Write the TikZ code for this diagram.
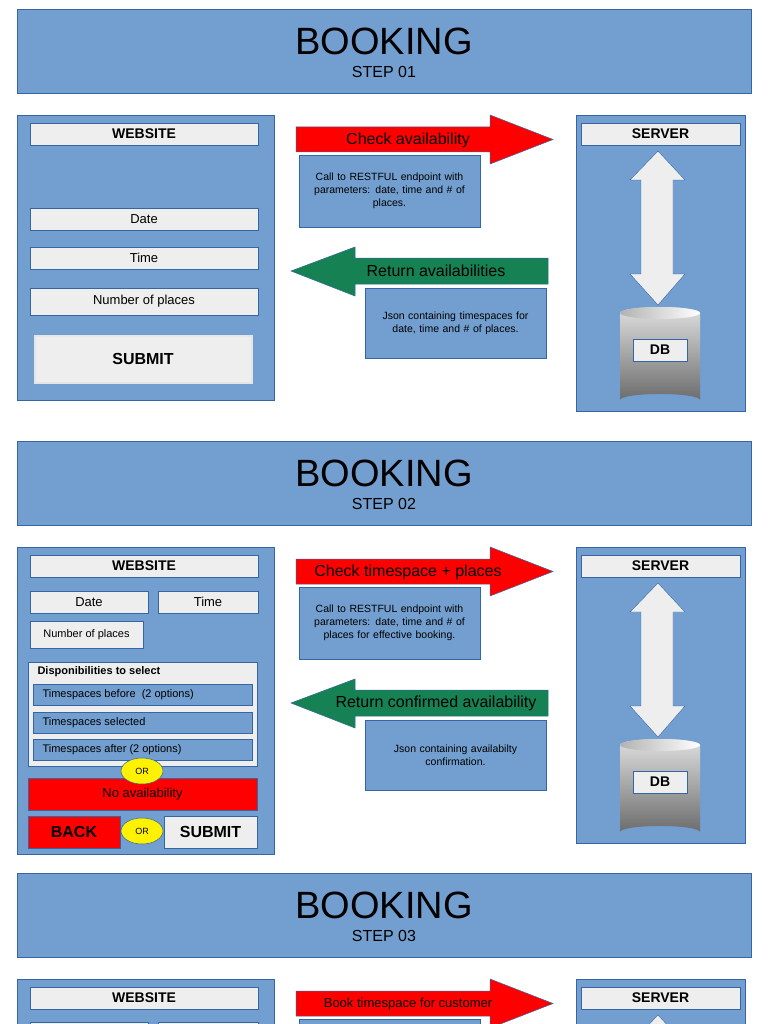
\documentclass[tikz,border=0pt]{standalone}
\usepackage{fontspec}
\setmainfont{Liberation Sans}
\usetikzlibrary{shapes.geometric}
\definecolor{pblue}{HTML}{729FCF}
\definecolor{dblue}{HTML}{3465A4}
\definecolor{lgray}{HTML}{EEEEEE}
\definecolor{pgreen}{HTML}{168253}
\newcommand\nohy{\hyphenpenalty=10000\relax}
\tikzset{
 panel/.style={fill=pblue,draw=dblue,line width=0.8pt},
 lab/.style={fill=lgray,draw=dblue,line width=0.6pt},
 redb/.style={fill=red,draw=dblue,line width=0.6pt},
 txt/.style={font=\fontsize{13}{15}\selectfont,align=center},
 btxt/.style={font=\fontsize{14}{16}\selectfont\bfseries},
 small/.style={font=\fontsize{10.5}{13}\selectfont,align=center,text width=176pt,inner sep=0pt,execute at begin node=\nohy},
 orl/.style={ellipse,fill=yellow,draw=dblue,line width=0.5pt,minimum width=42pt,minimum height=26pt,inner sep=0pt,font=\fontsize{9}{10}\selectfont},
}
\newcommand\hdr[2]{%
 \draw[panel] (17,9) rectangle (751,93);
 \node[font=\fontsize{38}{40}\selectfont] (bk#1) at (384,41) {BOOKING};
 \node[font=\fontsize{16}{18}\selectfont] (st#1) at (384,72) {STEP #2};}
\newcommand\redarrow[3]{%
 \fill[red,draw=dblue,line width=0.5pt] (296,127) -- (490,127) -- (490,115) -- (553,139.5) -- (490,164) -- (490,152) -- (296,152) -- cycle;
 \node[font=\fontsize{#3}{18}\selectfont] (ra#1) at (408,140) {#2};}
\newcommand\greenarrow[2]{%
 \fill[pgreen,draw=dblue,line width=0.5pt] (548,258) -- (355,258) -- (355,247) -- (291,271) -- (355,296) -- (355,284) -- (548,284) -- cycle;
 \node[font=\fontsize{16}{18}\selectfont] (ga#1) at (436,271) {#2};}
\newcommand\server[1]{%
 \draw[panel] (576,115) rectangle (745,411);
 \draw[lab] (581,123) rectangle (740,145);
 \node[btxt] (sv#1) at (660.5,134) {SERVER};
 \fill[lgray,draw=dblue,line width=0.4pt] (658,151) -- (685,180) -- (673,180) -- (673,274) -- (685,274) -- (658,305) -- (630,274) -- (641,274) -- (641,180) -- (630,180) -- cycle;
 \shade[top color=gray!25,bottom color=gray!85!black] (620,313) arc[start angle=180,end angle=360,x radius=40,y radius=6] -- (700,400) arc[start angle=0,end angle=-180,x radius=40,y radius=6] -- cycle;
 \shade[left color=gray!60,right color=white] (660,313) ellipse[x radius=40,y radius=6];
 \draw[lab] (633,339) rectangle (687,361);
 \node[btxt] (db#1) at (660,350) {DB};}
\begin{document}
\begin{tikzpicture}[x=1pt,y=-1pt]
\useasboundingbox (0,0) rectangle (768,1024);
% ---------- STEP 01
\begin{scope}
\hdr{a}{01}
\draw[panel] (17,115) rectangle (274,400);
\draw[lab] (30,123) rectangle (258,145); \node[btxt] (wa) at (144,134) {WEBSITE};
\draw[lab] (30,208) rectangle (258,230); \node[txt] (da) at (144,219) {Date};
\draw[lab] (30,247) rectangle (258,269); \node[txt] (ta) at (144,258) {Time};
\draw[lab] (30,288) rectangle (258,315); \node[txt] (na) at (144,301.5) {Number of places};
\draw[fill=lgray,draw=gray!20,line width=1.5pt] (35,336) rectangle (252,383); \node[font=\fontsize{16}{18}\selectfont\bfseries] (sa) at (143,359) {SUBMIT};
\redarrow{a}{Check availability}{16}
\draw[panel] (299,155) rectangle (480,227);
\node[small] (ca) at (389.5,191) {Call to RESTFUL endpoint with\\ parameters: date, time and \# of\\ places.};
\greenarrow{a}{Return availabilities}
\draw[panel] (365,288) rectangle (546,358);
\node[small] (ja) at (455.5,323) {Json containing timespaces for\\ date, time and \# of places.};
\server{a}
\end{scope}
% ---------- STEP 02
\begin{scope}[shift={(0,432)}]
\hdr{b}{02}
\draw[panel] (17,115) rectangle (274,422);
\draw[lab] (30,123) rectangle (258,145); \node[btxt] (wb) at (144,134) {WEBSITE};
\draw[lab] (30,159) rectangle (148,181); \node[txt] (db2) at (89,170) {Date};
\draw[lab] (158,159) rectangle (258,181); \node[txt] (tb) at (208,170) {Time};
\draw[lab] (30,189) rectangle (143,216); \node[font=\fontsize{11}{13}\selectfont] (nb) at (86.5,202.5) {Number of places};
\draw[lab] (28,230) rectangle (257,334);
\node[font=\fontsize{11}{13}\selectfont\bfseries,anchor=west] (dis) at (34,240) {Disponibilities to select};
\draw[panel,line width=0.6pt] (33,252) rectangle (252,273); \node[font=\fontsize{11}{13}\selectfont,anchor=west] (t1) at (39,262.5) {Timespaces before\ \ (2 options)};
\draw[panel,line width=0.6pt] (33,280) rectangle (252,301); \node[font=\fontsize{11}{13}\selectfont,anchor=west] (t2) at (39,290.5) {Timespaces selected};
\draw[panel,line width=0.6pt] (33,307) rectangle (252,328); \node[font=\fontsize{11}{13}\selectfont,anchor=west] (t3) at (39,317.5) {Timespaces after (2 options)};
\draw[redb] (28,346) rectangle (257,378); \node[txt] (nab) at (142.5,362) {No availability};
\node[orl] (or1) at (142,339) {OR};
\draw[redb] (28,384) rectangle (120,416); \node[font=\fontsize{16}{18}\selectfont\bfseries] (bb) at (74,400) {BACK};
\draw[lab] (164,384) rectangle (257,416); \node[font=\fontsize{16}{18}\selectfont\bfseries] (sb) at (210.5,400) {SUBMIT};
\node[orl] (or2) at (142,399) {OR};
\redarrow{b}{Check timespace + places}{16}
\draw[panel] (299,155) rectangle (480,227);
\node[small] (cb) at (389.5,191) {Call to RESTFUL endpoint with\\ parameters: date, time and \# of\\ places for effective booking.};
\greenarrow{b}{Return confirmed availability}
\draw[panel] (365,288) rectangle (546,358);
\node[small] (jb) at (455.5,323) {Json containing availabilty\\ confirmation.};
\server{b}
\end{scope}
% ---------- STEP 03
\begin{scope}[shift={(0,864)}]
\hdr{c}{03}
\draw[panel] (17,115) rectangle (274,200);
\draw[lab] (30,123) rectangle (258,145); \node[btxt] (wc) at (144,134) {WEBSITE};
\draw[lab] (30,158) rectangle (148,180);
\draw[lab] (158,158) rectangle (258,180);
\redarrow{c}{Book timespace for customer}{13}
\draw[panel] (299,155) rectangle (480,227);
\server{c}
\end{scope}
\end{tikzpicture}
\end{document}
